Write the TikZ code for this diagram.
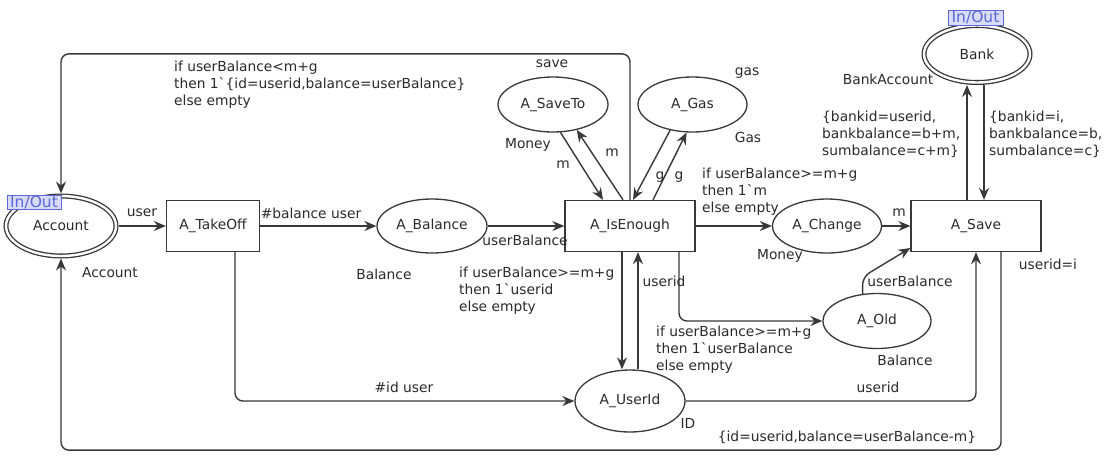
\documentclass[tikz,border=0pt]{standalone}
\usepackage{fontspec}
\setmainfont{DejaVu Sans}
\usetikzlibrary{shapes.geometric}
\usetikzlibrary{arrows.meta}
\definecolor{linegray}{HTML}{383838}
\definecolor{textgray}{HTML}{2A2A2A}
\definecolor{tagblue}{HTML}{5A68D8}
\definecolor{tagfill}{HTML}{D8DCF8}

\begin{document}
\begin{tikzpicture}[x=1pt, y=1pt, font=\fontsize{13.8}{17}\selectfont]
            \tikzstyle{place}=[ellipse, draw=linegray, line width=1.3pt, inner sep=0pt, minimum width=110pt, minimum height=54pt, text=textgray];
            \tikzstyle{port}=[place, double, double distance=2.4pt, outer sep=2.5pt];
            \tikzstyle{trans}=[rectangle, draw=linegray, line width=1.3pt, inner sep=0pt, minimum width=130pt, minimum height=51pt, text=textgray];
            \tikzstyle{tag}=[rectangle, draw=tagblue, fill=tagfill, text=tagblue, line width=0.8pt, inner sep=0pt, minimum width=54pt, minimum height=14pt, font=\fontsize{15.5}{17}\selectfont];
            \tikzstyle{inscr}=[inner sep=0pt, text=textgray];
            \tikzstyle{block}=[inscr, align=left, anchor=north west];
            \tikzstyle{arc}=[draw=linegray, line width=1.4pt, rounded corners=8pt, -{Stealth[length=12pt, width=10pt, inset=4pt]}];

            \useasboundingbox (0,0) rectangle (1107,-467);

            % Places and transitions
            \node(account) [port, minimum width=110pt, minimum height=60pt] at (61,-226) {Account};
            \node(account_tag) [tag] at (34,-202) {In/Out};
            \node(take_off) [trans, minimum width=93pt] at (213,-226) {A\_TakeOff};
            \node(balance) [place] at (432,-226) {A\_Balance};
            \node(is_enough) [trans] at (630,-226) {A\_IsEnough};
            \node(save_to) [place, minimum height=55pt] at (553,-104.5) {A\_SaveTo};
            \node(gas) [place, minimum width=109pt, minimum height=55pt] at (692.5,-104.5) {A\_Gas};
            \node(change) [place, minimum width=109pt] at (827,-226) {A\_Change};
            \node(save) [trans] at (976,-226) {A\_Save};
            \node(bank) [port, minimum width=106pt, minimum height=57pt] at (977,-54) {Bank};
            \node(bank_tag) [tag, minimum width=55pt, minimum height=15pt] at (975.5,-17.5) {In/Out};
            \node(old) [place, minimum width=108pt, minimum height=55pt] at (877,-321) {A\_Old};
            \node(user_id) [place, minimum height=62pt] at (630,-401) {A\_UserId};

            % Colour sets
            \node(account_set) [inscr] at (110,-273) {Account};
            \node(balance_set) [inscr] at (384,-274) {Balance};
            \node(save_to_set) [inscr] at (528,-145) {Money};
            \node(save_to_init) [inscr] at (552,-64) {save};
            \node(gas_init) [inscr] at (747,-73) {gas};
            \node(gas_set) [inscr] at (748,-137) {Gas};
            \node(change_set) [inscr] at (780,-256) {Money};
            \node(old_set) [inscr] at (905,-360) {Balance};
            \node(user_id_set) [inscr] at (688,-423) {ID};
            \node(bank_set) [inscr] at (888,-79) {BankAccount};
            \node(save_guard) [inscr] at (1048,-264) {userid=i};

            % Main row
            \draw[arc] (account) -- (take_off);
            \draw[arc] (take_off) -- (balance);
            \draw[arc] (balance) -- (is_enough);
            \draw[arc] (is_enough) -- (change);
            \draw[arc] (change) -- (save);
            \node(l_user) [inscr] at (142,-213) {user};
            \node(l_bal_user) [inscr] at (311,-213) {\#balance user};
            \node(l_ub) [inscr] at (525,-240) {userBalance};
            \node(l_m_change) [inscr] at (899,-213) {m};
            \node(l_change) [block] at (702,-168) {if userBalance>=m+g\\then 1\textasciigrave m\\else empty};

            % SaveTo and Gas
            \draw[arc] (save_to.-75) -- ([xshift=-27pt]is_enough.north);
            \draw[arc] ([xshift=-7pt]is_enough.north) -- (save_to.-47);
            \draw[arc] (gas.-131) -- ([xshift=3pt]is_enough.north);
            \draw[arc] ([xshift=23pt]is_enough.north) -- (gas.-102);
            \node(l_m_in) [inscr] at (563,-165) {m};
            \node(l_m_out) [inscr] at (612,-153) {m};
            \node(l_g_in) [inscr] at (660,-177) {g};
            \node(l_g_out) [inscr] at (679,-177) {g};

            % Bank
            \draw[arc] ([xshift=-9pt]save.north) -- ([xshift=-9pt]save.north |- bank.south);
            \draw[arc] ([xshift=8pt]save.north |- bank.south) -- ([xshift=8pt]save.north);
            \node(l_bank_out) [block] at (822,-111) {\{bankid=userid,\\bankbalance=b+m,\\sumbalance=c+m\}};
            \node(l_bank_in) [block] at (989,-111) {\{bankid=i,\\bankbalance=b,\\sumbalance=c\}};

            % Back to Account
            \draw[arc] (is_enough.north) -- ++(0,146) -| (account.north);
            \node(l_refuse) [block] at (174,-61) {if userBalance<m+g\\then 1\textasciigrave\{id=userid,balance=userBalance\}\\else empty};
            \draw[arc] ([xshift=25pt]save.south) -- ++(0,-198) -| (account.south);
            \node(l_new_acc) [inscr] at (847,-437) {\{id=userid,balance=userBalance-m\}};

            % UserId and Old
            \draw[arc] ([xshift=22pt]take_off.south) |- (user_id);
            \draw[arc] (user_id) -| (save);
            \draw[arc] ([xshift=-8pt]is_enough.south) -- ([xshift=-8pt]is_enough.south |- user_id.north);
            \draw[arc] ([xshift=8pt]is_enough.south |- user_id.north) -- ([xshift=8pt]is_enough.south);
            \draw[arc] ([xshift=49pt]is_enough.south) |- (old);
            \draw[arc] (old.118) -- ++(0,17) -- ([yshift=-22pt]save.west);
            \node(l_id_user) [inscr] at (404,-387) {\#id user};
            \node(l_userid) [inscr] at (878,-387) {userid};
            \node(l_userid_back) [inscr] at (664,-281) {userid};
            \node(l_old_ub) [inscr] at (910,-281) {userBalance};
            \node(l_to_user_id) [block] at (459,-267) {if userBalance>=m+g\\then 1\textasciigrave userid\\else empty};
            \node(l_to_old) [block] at (656,-326) {if userBalance>=m+g\\then 1\textasciigrave userBalance\\else empty};
\end{tikzpicture}
\end{document}
